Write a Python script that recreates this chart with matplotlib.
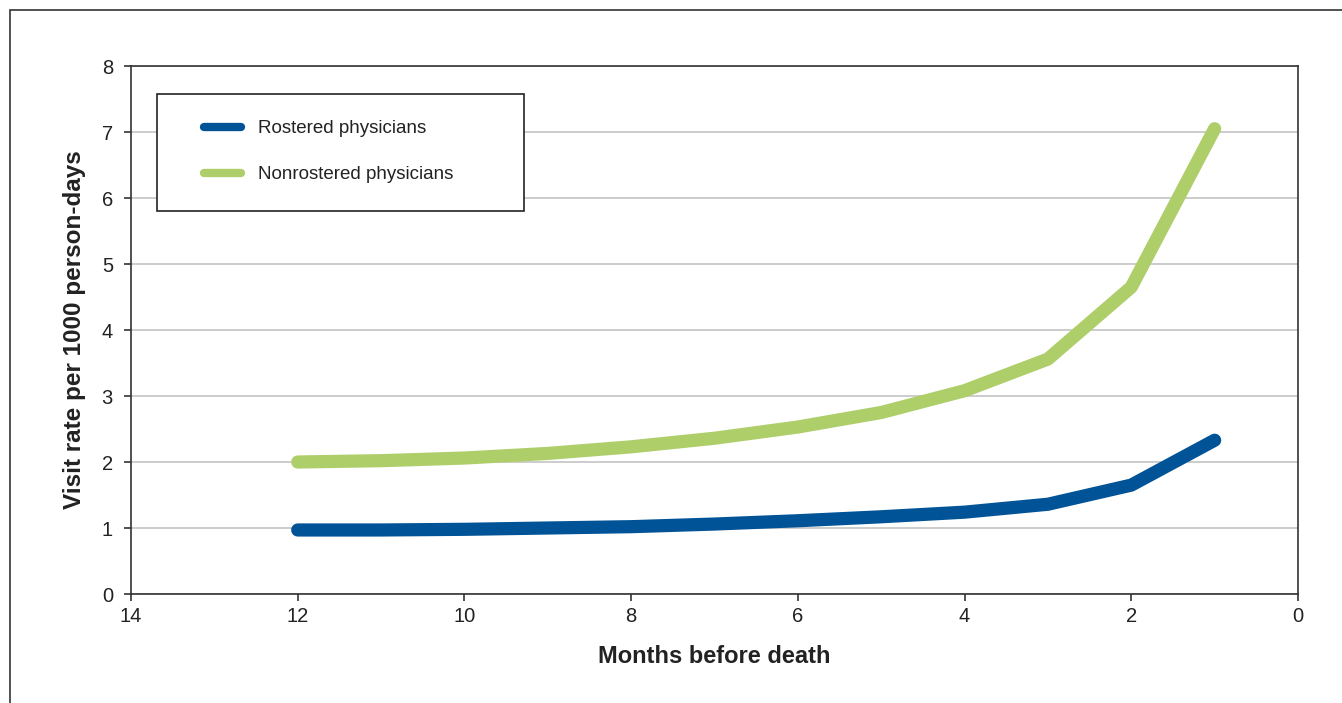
import matplotlib
matplotlib.use("Agg")
import matplotlib.pyplot as plt
from matplotlib.patches import Rectangle

plt.rcParams['font.family'] = ['Liberation Sans', 'DejaVu Sans']

months = [12, 11, 10, 9, 8, 7, 6, 5, 4, 3, 2, 1]
rostered = [0.97, 0.97, 0.98, 1.00, 1.02, 1.06, 1.11, 1.17, 1.24, 1.36, 1.65, 2.33]
nonrostered = [2.00, 2.02, 2.06, 2.13, 2.23, 2.36, 2.53, 2.75, 3.08, 3.56, 4.65, 7.05]
series_names = ["Rostered physicians", "Nonrostered physicians"]
colors = ["#005396", "#AECE6A"]
xticks = [14, 12, 10, 8, 6, 4, 2, 0]
yticks = [0, 1, 2, 3, 4, 5, 6, 7, 8]

W, H = 1342, 703
fig = plt.figure(figsize=(W / 100, H / 100), dpi=100)

# outer frame (cropped at right/bottom)
fig.patches.append(Rectangle((10 / W, -0.05), 1.1, (H - 10) / H + 0.05,
                             transform=fig.transFigure, fill=False,
                             edgecolor="#333333", linewidth=1.2))

ax = fig.add_axes([131 / W, (H - 594) / H, (1298 - 131) / W, (594 - 66) / H])

for y, name, c in [(rostered, series_names[0], colors[0]),
                   (nonrostered, series_names[1], colors[1])]:
    ax.plot(months, y, color=c, linewidth=9.5, solid_capstyle="round",
            solid_joinstyle="round", label=name, zorder=3)

ax.set_xlim(14, 0)
ax.set_ylim(0, 8)
ax.set_xticks(xticks)
ax.set_yticks(yticks)
ax.yaxis.grid(True, color="#cccccc", linewidth=1.4)
ax.set_axisbelow(True)
for s in ax.spines.values():
    s.set_color("#333333")
    s.set_linewidth(1.2)
ax.tick_params(direction="out", length=5, width=1.2, color="#333333",
               labelsize=14.5, labelcolor="#222222")
ax.tick_params(axis="y", pad=8)
ax.tick_params(axis="x", pad=4)
ax.set_xlabel("Months before death", fontsize=17, fontweight="bold",
              labelpad=14, color="#222222")
ax.set_ylabel("Visit rate per 1000 person-days", fontsize=17.5,
              fontweight="bold", labelpad=11, color="#222222")

# legend
x0 = (157 - 131) / (1298 - 131)
x1 = (524 - 131) / (1298 - 131)
yt = (594 - 94) / (594 - 66)
yb = (594 - 211) / (594 - 66)
ax.add_patch(Rectangle((x0, yb), x1 - x0, yt - yb, transform=ax.transAxes,
                       fill=True, facecolor="white", edgecolor="#222222",
                       linewidth=1.2, zorder=5))
leg = ax.legend(loc="upper left",
                bbox_to_anchor=((204 - 131) / (1298 - 131), (594 - 120) / (594 - 66)),
                frameon=False, fontsize=13.5, handlelength=1.95, handletextpad=0.95,
                labelspacing=1.55, borderpad=0, borderaxespad=0)
leg.set_zorder(6)
for h in leg.get_lines():
    h.set_linewidth(6)
    h.set_solid_capstyle("round")
for t in leg.get_texts():
    t.set_color("#222222")

fig.savefig("out.png", dpi=100)
